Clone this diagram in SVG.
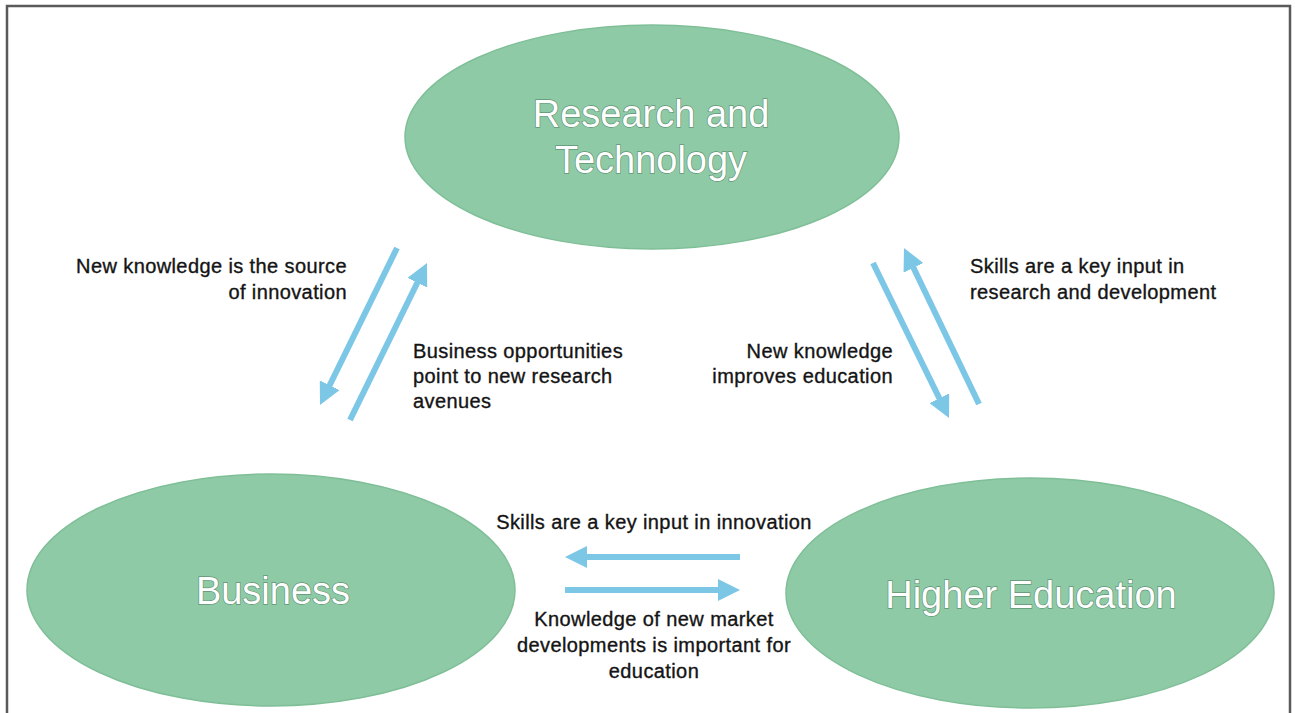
<svg xmlns="http://www.w3.org/2000/svg" width="1295" height="713" viewBox="0 0 1295 713">
<style>
.node{fill:#8fcaa6;stroke:#7fbf98;stroke-width:1.5}
.title{font-family:"Liberation Sans",Arial,sans-serif;font-size:38px;fill:#ffffff;text-anchor:middle;stroke:#3f6e53;stroke-opacity:0.6;stroke-width:1.4;paint-order:stroke}
.lbl{font-family:"Liberation Sans",Arial,sans-serif;font-size:20px;fill:#141414;letter-spacing:0.4px;stroke:#141414;stroke-width:0.35}
.arrow{stroke:#7cc6e6;stroke-width:6;fill:none;marker-end:url(#head)}
</style>
<defs>
<marker id="head" markerUnits="userSpaceOnUse" markerWidth="22" markerHeight="22" viewBox="0 0 22 22" refX="12" refY="11" orient="auto">
<path d="M0,0 L22,11 L0,22 z" fill="#7cc6e6"/>
</marker>
</defs>
<rect width="1295" height="713" fill="#ffffff"/>
<path d="M7,713 V6 H1290 V713" fill="none" stroke="#5a5a5a" stroke-width="2.5"/>
<g id="research">
<ellipse class="node" cx="652" cy="137" rx="247" ry="112"/>
<text class="title" x="651" y="127">Research and</text>
<text class="title" x="651" y="173">Technology</text>
</g>
<g id="business">
<ellipse class="node" cx="271" cy="590" rx="244" ry="116"/>
<text class="title" x="273" y="604">Business</text>
</g>
<g id="higher-education">
<ellipse class="node" cx="1030" cy="593" rx="244" ry="115"/>
<text class="title" x="1031" y="608">Higher Education</text>
</g>
<g id="connectors">
<line class="arrow" x1="397" y1="248" x2="324.4" y2="396"/>
<line class="arrow" x1="350" y1="420" x2="422.6" y2="272"/>
<line class="arrow" x1="873" y1="263" x2="944.6" y2="409"/>
<line class="arrow" x1="979" y1="404" x2="908.3" y2="257"/>
<line class="arrow" x1="740" y1="557" x2="575" y2="557"/>
<line class="arrow" x1="565" y1="590" x2="730" y2="590"/>
</g>
<g id="labels">
<text class="lbl" text-anchor="end"><tspan x="347" y="273">New knowledge is the source</tspan><tspan x="347" y="299">of innovation</tspan></text>
<text class="lbl"><tspan x="413" y="358">Business opportunities</tspan><tspan x="413" y="383">point to new research</tspan><tspan x="413" y="408">avenues</tspan></text>
<text class="lbl"><tspan x="970" y="273">Skills are a key input in</tspan><tspan x="970" y="299">research and development</tspan></text>
<text class="lbl" text-anchor="end"><tspan x="893" y="358">New knowledge</tspan><tspan x="893" y="383">improves education</tspan></text>
<text class="lbl" text-anchor="middle" x="654" y="529">Skills are a key input in innovation</text>
<text class="lbl" text-anchor="middle"><tspan x="654" y="626">Knowledge of new market</tspan><tspan x="654" y="652">developments is important for</tspan><tspan x="654" y="678">education</tspan></text>
</g>
</svg>
